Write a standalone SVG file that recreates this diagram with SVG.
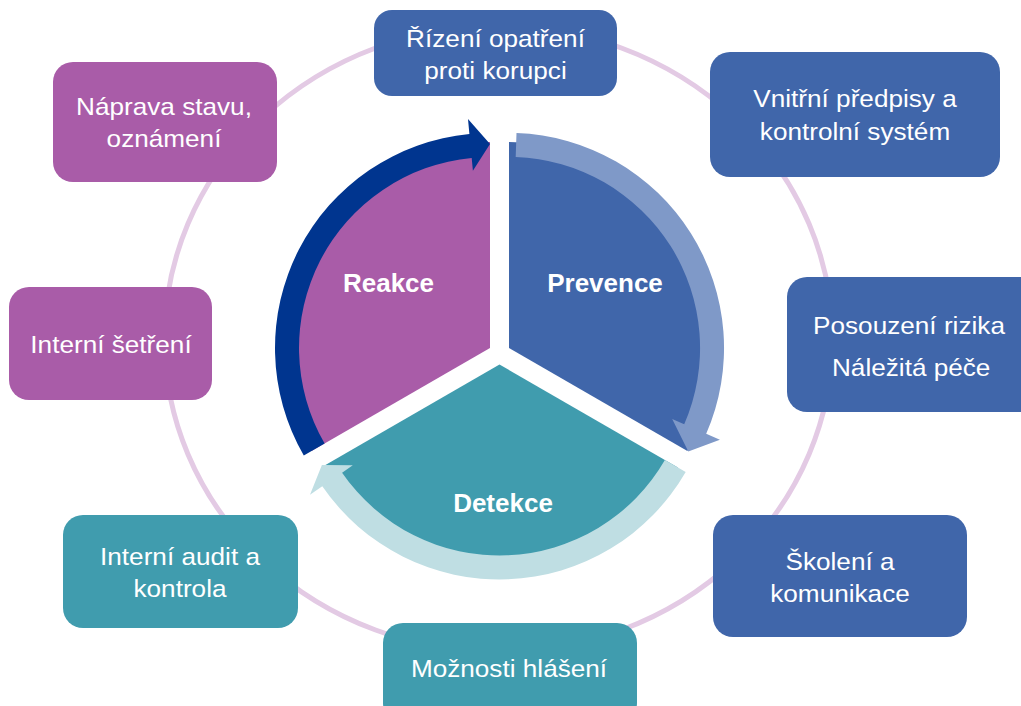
<svg xmlns="http://www.w3.org/2000/svg" width="1021" height="706" viewBox="0 0 1021 706">
<style>
.bx{font-family:"Liberation Sans",Arial,sans-serif;font-size:24px;fill:#ffffff;text-anchor:middle}
.lbl{font-family:"Liberation Sans",Arial,sans-serif;font-size:26px;font-weight:bold;fill:#ffffff;text-anchor:middle}
.blue{fill:#4066aa}
.purple{fill:#a95ca8}
.teal{fill:#409cae}
</style>
<rect width="1021" height="706" fill="#ffffff"/>
<g id="ring">
<ellipse cx="498.5" cy="339" rx="334" ry="313" fill="none" stroke="#e3cae4" stroke-width="5"/>
</g>
<g id="pie">
<g id="reakce">
<path class="purple" d="M490,348 L311.6,451 A206,206 0 0,1 490,142 Z"/>
<text class="lbl" x="388.5" y="292">Reakce</text>
</g>
<g id="prevence">
<path class="blue" d="M509,348 L509,142 A206,206 0 0,1 687.4,451 Z"/>
<text class="lbl" x="605" y="292">Prevence</text>
</g>
<g id="detekce">
<path class="teal" d="M499.5,364.5 L677.9,467.5 A206,206 0 0,1 321.1,467.5 Z"/>
<text class="lbl" x="503" y="512">Detekce</text>
</g>
</g>
<g id="connectors">
<path fill="#bfdee3" d="M685.7,472 A215,215 0 0,1 322.3,486.3 L310,494.8 L321.9,465 L352.8,465.3 L342.1,472.7 A191,191 0 0,0 664.9,460 Z"/>
<path fill="#7f99c8" d="M516.5,133.1 A215,215 0 0,1 706.2,433.7 L719.9,439.7 L688.3,451.5 L672.2,419 L684.2,424.2 A191,191 0 0,0 515.7,157.1 Z"/>
<path fill="#00358f" d="M303.8,455.5 A215,215 0 0,1 469.4,134 L468,119.1 L490,144 L472.9,170.8 L471.7,157.9 A191,191 0 0,0 324.6,443.5 Z"/>
</g>
<g id="box-rizeni">
<rect class="blue" x="374" y="10" width="243" height="86" rx="18"/>
<g transform="translate(495.5,0) scale(1.09,1)"><text class="bx" x="0" y="47">Řízení opatření</text><text class="bx" x="0" y="79">proti korupci</text></g>
</g>
<g id="box-vnitrni">
<rect class="blue" x="710" y="52" width="290" height="125" rx="20"/>
<g transform="translate(855,0) scale(1.09,1)"><text class="bx" x="0" y="107">Vnitřní předpisy a</text><text class="bx" x="0" y="140">kontrolní systém</text></g>
</g>
<g id="box-posouzeni">
<rect class="blue" x="787" y="277" width="252" height="135" rx="20"/>
<g transform="translate(909,0) scale(1.09,1)"><text class="bx" x="0" y="334">Posouzení rizika</text><text class="bx" x="2" y="376">Náležitá péče</text></g>
</g>
<g id="box-skoleni">
<rect class="blue" x="713" y="515" width="254" height="122" rx="20"/>
<g transform="translate(840,0) scale(1.09,1)"><text class="bx" x="0" y="570">Školení a</text><text class="bx" x="0" y="602">komunikace</text></g>
</g>
<g id="box-moznosti">
<rect class="teal" x="383" y="623" width="254" height="100" rx="20"/>
<g transform="translate(509,0) scale(1.09,1)"><text class="bx" x="0" y="677">Možnosti hlášení</text></g>
</g>
<g id="box-audit">
<rect class="teal" x="63" y="515" width="235" height="113" rx="20"/>
<g transform="translate(180,0) scale(1.09,1)"><text class="bx" x="0" y="565">Interní audit a</text><text class="bx" x="0" y="597">kontrola</text></g>
</g>
<g id="box-setreni">
<rect class="purple" x="9" y="287" width="203" height="113" rx="20"/>
<g transform="translate(111,0) scale(1.09,1)"><text class="bx" x="0" y="353">Interní šetření</text></g>
</g>
<g id="box-naprava">
<rect class="purple" x="53" y="62" width="224" height="120" rx="20"/>
<g transform="translate(164,0) scale(1.09,1)"><text class="bx" x="0" y="115">Náprava stavu,</text><text class="bx" x="0" y="147">oznámení</text></g>
</g>
</svg>
